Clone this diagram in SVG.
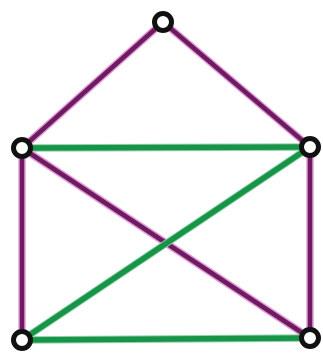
<svg xmlns="http://www.w3.org/2000/svg" width="323" height="354" viewBox="0 0 323 354">
<style>
.halo{stroke:#e69adb;stroke-width:7.5;stroke-linecap:round;fill:none}
.p{stroke:#6e1c60;stroke-width:4.5;stroke-linecap:round;fill:none}
.gh{stroke:#8fd3a8;stroke-width:7.5;stroke-linecap:round;fill:none}
.g{stroke:#179447;stroke-width:5.5;stroke-linecap:round;fill:none}
.n{fill:#ffffff;stroke:#111111;stroke-width:5}
</style>
<rect width="323" height="354" fill="#ffffff"/>
<g id="connectors">
<g class="halo">
<line x1="163" y1="22" x2="22" y2="148"/>
<line x1="163" y1="22" x2="310" y2="147"/>
<line x1="22" y1="148" x2="22" y2="340"/>
<line x1="310" y1="147" x2="310" y2="338"/>
<line x1="22" y1="148" x2="310" y2="338"/>
</g>
<g class="p">
<line x1="163" y1="22" x2="22" y2="148"/>
<line x1="163" y1="22" x2="310" y2="147"/>
<line x1="22" y1="148" x2="22" y2="340"/>
<line x1="310" y1="147" x2="310" y2="338"/>
<line x1="22" y1="148" x2="310" y2="338"/>
</g>
<g class="gh">
<line x1="22" y1="148" x2="310" y2="147"/>
<line x1="310" y1="147" x2="22" y2="340"/>
<line x1="22" y1="340" x2="310" y2="338"/>
</g>
<g class="g">
<line x1="22" y1="148" x2="310" y2="147"/>
<line x1="310" y1="147" x2="22" y2="340"/>
<line x1="22" y1="340" x2="310" y2="338"/>
</g>
</g>
<g id="node-top"><circle class="n" cx="163" cy="22" r="8.5"/></g>
<g id="node-left"><circle class="n" cx="22" cy="148" r="8.5"/></g>
<g id="node-right"><circle class="n" cx="310" cy="147" r="8.5"/></g>
<g id="node-bottom-left"><circle class="n" cx="22" cy="340" r="8.5"/></g>
<g id="node-bottom-right"><circle class="n" cx="310" cy="338" r="8.5"/></g>
</svg>
